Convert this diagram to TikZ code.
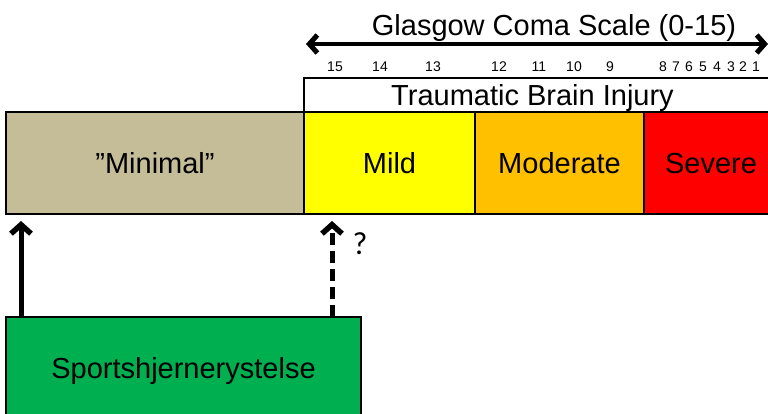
\documentclass[tikz,border=0pt]{standalone}
\usepackage{fontspec}
\setmainfont{Liberation Sans}
\newfontfamily\qfont{Carlito}
\usetikzlibrary{arrows.meta, positioning}

\definecolor{minimalc}{HTML}{C4BD97}
\definecolor{mildc}{HTML}{FFFF00}
\definecolor{moderatec}{HTML}{FFC000}
\definecolor{severec}{HTML}{FF0000}
\definecolor{sportc}{HTML}{00B050}

\tikzset{
  band/.style={draw, line width=1.8pt, outer sep=0pt, inner sep=0pt,
    minimum height=102pt, text depth=0pt, font=\fontsize{29}{34}\selectfont},
  bigarrow/.style={line width=5pt, -{Straight Barb[length=9pt, width=20pt, line width=5.5pt]}},
  gcsnum/.style={anchor=base, inner sep=0pt, font=\fontsize{14}{16}\selectfont},
  bigtext/.style={inner sep=0pt, font=\fontsize{29}{34}\selectfont},
}

\begin{document}
\begin{tikzpicture}[x=1pt, y=-1pt]
  \useasboundingbox (0,0) rectangle (768,414);
  \clip (0,0) rectangle (768,414);

  % severity bands
  \node[band, fill=minimalc, minimum width=298pt] (minimal) at (155,163) {”Minimal”};
  \node[band, fill=mildc, minimum width=171pt, right=0pt of minimal] (mild) {Mild};
  \node[band, fill=moderatec, minimum width=169pt, right=0pt of mild] (moderate) {Moderate};
  \node[band, fill=severec, minimum width=134pt, right=0pt of moderate] (severe) {Severe};

  % traumatic brain injury header
  \node[draw, line width=1.8pt, outer sep=0pt, minimum width=480pt, minimum height=34pt,
    anchor=south west] (tbi) at (mild.north west) {};
  \node[bigtext, text depth=0pt] (tbilabel) at (532.5,95) {Traumatic Brain Injury};

  % glasgow coma scale
  \foreach \n/\x in {15/335, 14/380, 13/433, 12/499, 11/539, 10/574, 9/610,
                     8/663, 7/676, 6/689, 5/703, 4/717, 3/731, 2/743, 1/756}
    \node[gcsnum] (gcs\n) at (\x,72) {\n};
  \coordinate (gcsleft) at (306,44);
  \coordinate (gcsright) at (768,44);
  \draw[line width=4.5pt, {Straight Barb[length=8pt, width=18pt, line width=5pt]}-{Straight Barb[length=8pt, width=18pt, line width=5pt]}]
    (gcsleft) -- (gcsright);
  \node[bigtext, anchor=base] (gcslabel) at (554,36) {Glasgow Coma Scale (0-15)};

  % sport concussion
  \node[band, fill=sportc, minimum width=355pt] (sport) at (183.5,368) {Sportshjernerystelse};
  \draw[bigarrow] ([xshift=15pt]sport.north west) -- ([xshift=15pt,yshift=-7pt]minimal.south west);
  \draw[bigarrow, dash pattern=on 12pt off 6pt]
    ([xshift=28pt]mild.south west |- sport.north) -- ([xshift=28pt,yshift=-7pt]mild.south west);
  \node[anchor=base, inner sep=0pt, font=\qfont\fontsize{32}{36}\selectfont] (qmark) at (360,254) {?};
\end{tikzpicture}
\end{document}
